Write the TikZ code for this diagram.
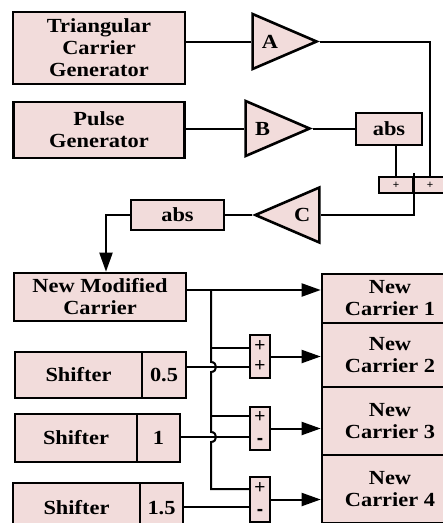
\documentclass[tikz,border=0pt]{standalone}
\usepackage{fontspec}
\setmainfont{Liberation Serif}[FakeStretch=1.12]
\newfontfamily\signfont{Liberation Sans}
\usetikzlibrary{shapes.geometric, arrows.meta, positioning, calc}
\definecolor{boxpink}{RGB}{242,220,219}

\begin{document}
\begin{tikzpicture}[x=1pt, y=-1pt,
			% Define styles
			block/.style={rectangle, draw=black, line width=2.6pt, fill=boxpink, align=center, inner sep=0pt, font=\fontsize{20}{22}\selectfont\bfseries},
			gain/.style={isosceles triangle, isosceles triangle stretches, draw=black, line width=2.6pt, fill=boxpink, inner sep=0pt, minimum width=55pt, minimum height=64pt, font=\fontsize{20}{22}\selectfont\bfseries},
			sumcell/.style={rectangle, draw=black, line width=2.2pt, fill=boxpink, align=center, inner sep=0pt},
			wire/.style={line width=2pt, draw=black},
			arrowwire/.style={wire, -{Triangle[length=19pt, width=13pt]}}
			]
			\useasboundingbox (0,0) rectangle (443,523);
			\clip (0,0) rectangle (443,523);
			
			% Generators and gains
			\node[block, minimum width=172pt, minimum height=72pt] (tcg) at (99,48) {Triangular\\Carrier\\Generator};
			\node[block, minimum width=171pt, minimum height=56pt] (pg) at (99,130) {Pulse\\Generator};
			\node[gain, anchor=apex] (A) at (320,41.5) {A};
			\node[gain, anchor=apex] (B) at (313,128.5) {B};
			\node[block, minimum width=66pt, minimum height=32pt] (absB) at (389,129) {abs};
			
			% Top adder
			\node[sumcell, minimum width=34pt, minimum height=16pt, font=\signfont\fontsize{11}{11}\selectfont] (sumL) at (396,185) {+};
			\node[sumcell, minimum width=34pt, minimum height=16pt, font=\signfont\fontsize{11}{11}\selectfont] (sumR) at (430,185) {+};
			
			% Return path
			\node[gain, shape border rotate=180, anchor=apex] (C) at (252,215) {C};
			\node[block, minimum width=93pt, minimum height=30pt] (absC) at (177.5,215) {abs};
			\node[block, minimum width=172pt, minimum height=48pt] (nmc) at (100,297) {New Modified\\Carrier};
			
			% New carriers
			\node[block, minimum width=136pt, minimum height=49pt] (c1) at (390,298.5) {New\\Carrier 1};
			\node[block, minimum width=136pt, minimum height=64pt] (c2) at (390,355) {New\\Carrier 2};
			\node[block, minimum width=136pt, minimum height=68pt] (c3) at (390,421) {New\\Carrier 3};
			\node[block, minimum width=136pt, minimum height=68pt] (c4) at (390,489) {New\\Carrier 4};
			
			% Shifters
			\node[block, minimum width=127pt, minimum height=46pt] (sh1) at (78.5,375) {Shifter};
			\node[block, minimum width=44pt, minimum height=46pt] (sh1v) at (164,375) {0.5};
			\node[block, minimum width=122pt, minimum height=48pt] (sh2) at (76,438) {Shifter};
			\node[block, minimum width=43pt, minimum height=48pt] (sh2v) at (158.5,438) {1};
			\node[block, minimum width=127pt, minimum height=50pt] (sh3) at (76.5,508) {Shifter};
			\node[block, minimum width=43pt, minimum height=50pt] (sh3v) at (161.5,508) {1.5};
			
			% Small adders
			\node[sumcell, minimum width=20pt, minimum height=43pt, font=\signfont\fontsize{19}{20}\selectfont] (s1) at (260,356.5) {+\\+};
			\node[sumcell, minimum width=20pt, minimum height=43pt, font=\signfont\fontsize{19}{22}\selectfont] (s2) at (260,428.5) {+\\\textbf{-}};
			\node[sumcell, minimum width=20pt, minimum height=45pt, font=\signfont\fontsize{19}{22}\selectfont] (s3) at (260,499.5) {+\\\textbf{-}};
			
			% Junction points
			\coordinate (bustop) at (211,290);
			\coordinate (j1) at (211,348);
			\coordinate (j2) at (211,416);
			\coordinate (j3) at (211,489);
			\coordinate (in1) at (250,367);
			\coordinate (in2) at (250,437);
			\coordinate (in3) at (250,507);
			
			% Top connections
			\draw[wire] (A.lower side -| tcg.east) -- (A.lower side);
			\draw[wire] (B.lower side -| pg.east) -- (B.lower side);
			\draw[wire] (B.apex) -- (absB.west |- B.apex);
			\draw[wire] (A.apex) -| (sumR.north);
			\draw[wire] (sumL.north |- absB.south) -- (sumL.north);
			\draw[wire] ($(sumL.north east)+(0,-3)$) -- (sumL.north east |- C.lower side) -- (C.lower side);
			\draw[wire] (C.apex) -- (absC.east);
			\draw[arrowwire] (absC.west) -| ([xshift=6pt]nmc.north);
			
			% Carrier bus
			\draw[arrowwire] (nmc.east |- bustop) -- (c1.west |- bustop);
			\draw[wire] (bustop) -- (211,362) .. controls (217.7,362) and (217.7,372) .. (211,372)
				-- (211,432) .. controls (217.7,432) and (217.7,442) .. (211,442) -- (j3) -- (s3.west |- j3);
			\draw[wire] (j1) -- (s1.west |- j1);
			\draw[wire] (j2) -- (s2.west |- j2);
			
			% Shifter inputs
			\draw[wire] (sh1v.east |- in1) -- (in1);
			\draw[wire] (sh2v.east |- in2) -- (in2);
			\draw[wire] (sh3v.east |- in3) -- (in3);
			
			% Adder outputs
			\draw[arrowwire] (s1.east) -- (c2.west |- s1.east);
			\draw[arrowwire] (s2.east) -- (c3.west |- s2.east);
			\draw[arrowwire] (s3.east) -- (c4.west |- s3.east);
			
		\end{tikzpicture}
\end{document}
